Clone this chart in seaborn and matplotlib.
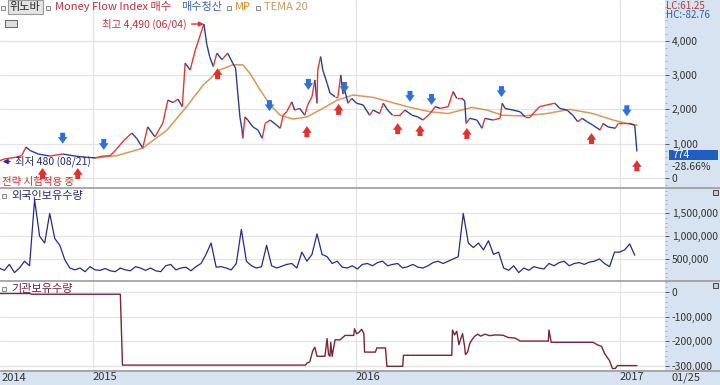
import matplotlib
matplotlib.use("Agg")
import matplotlib.pyplot as plt
import matplotlib.dates as mdates
import matplotlib.transforms as mtransforms
from matplotlib.collections import LineCollection
from matplotlib.patches import Rectangle
from matplotlib.lines import Line2D
from matplotlib.ticker import FuncFormatter, AutoMinorLocator
import numpy as np
import pandas as pd
import seaborn as sns

sns.set_theme(style="white")
plt.rcParams["font.family"] = ["Noto Sans CJK KR", "DejaVu Sans"]
plt.rcParams["axes.unicode_minus"] = False

# ---- price (close) ----
price_dates = [
    "2014-08-21", "2014-09-01", "2014-09-15", "2014-09-24", "2014-09-30", "2014-10-06", "2014-10-17", "2014-11-02", "2014-11-20", "2014-12-07", "2014-12-25",
    "2015-01-05", "2015-01-15", "2015-01-25", "2015-02-03", "2015-02-13", "2015-02-24", "2015-03-03", "2015-03-11", "2015-03-18", "2015-03-28",
    "2015-04-08", "2015-04-15", "2015-04-22", "2015-04-29", "2015-05-05", "2015-05-09", "2015-05-16", "2015-05-23", "2015-06-04", "2015-06-08",
    "2015-06-12", "2015-06-17", "2015-06-22", "2015-06-29", "2015-07-07", "2015-07-14", "2015-07-18", "2015-07-21", "2015-07-24", "2015-07-27",
    "2015-07-28", "2015-07-31", "2015-08-04", "2015-08-11", "2015-08-18", "2015-08-24", "2015-08-28", "2015-09-04", "2015-09-13", "2015-09-18",
    "2015-09-22", "2015-09-27", "2015-10-04", "2015-10-08", "2015-10-15", "2015-10-22", "2015-10-26", "2015-11-01", "2015-11-05", "2015-11-08",
    "2015-11-09", "2015-11-13", "2015-11-16", "2015-11-22", "2015-11-26", "2015-12-03", "2015-12-07", "2015-12-11", "2015-12-14", "2015-12-17",
    "2015-12-21", "2015-12-26", "2016-01-02", "2016-01-11", "2016-01-20", "2016-01-25", "2016-02-03", "2016-02-08", "2016-02-14", "2016-02-21",
    "2016-03-02", "2016-03-09", "2016-03-19", "2016-03-27", "2016-04-03", "2016-04-13", "2016-04-20", "2016-04-27", "2016-05-08", "2016-05-15",
    "2016-05-20", "2016-05-27", "2016-05-31", "2016-06-02", "2016-06-07", "2016-06-17", "2016-06-24", "2016-06-28", "2016-07-09", "2016-07-19",
    "2016-07-22", "2016-07-26", "2016-08-06", "2016-08-16", "2016-08-23", "2016-08-30", "2016-09-05", "2016-09-12", "2016-09-22", "2016-10-03",
    "2016-10-10", "2016-10-20", "2016-10-28", "2016-11-04", "2016-11-10", "2016-11-17", "2016-11-25", "2016-12-05", "2016-12-09", "2016-12-16",
    "2016-12-26", "2016-12-30", "2017-01-06", "2017-01-15", "2017-01-22", "2017-01-25",
]
price_vals = [
    480, 560, 600, 650, 900, 800, 700, 640, 700, 640, 600,
    590, 640, 650, 850, 1100, 1310, 1150, 870, 1490, 1200,
    1600, 2270, 2200, 2300, 2080, 3350, 3150, 3730, 4490, 3900,
    3540, 3250, 3640, 3450, 3640, 3350, 3200, 2480, 1780, 1400,
    1160, 1780, 1690, 1490, 1400, 1160, 1590, 1690, 1540, 1450,
    1830, 1930, 2220, 1980, 2030, 1830, 2130, 2370, 2860, 2180,
    3150, 3540, 3150, 2760, 2480, 2370, 2370, 3000, 2450, 2520,
    2180, 2320, 2180, 2130, 1830, 1980, 1880, 2180, 1980, 1830,
    1830, 1980, 1830, 1780, 1690, 1880, 2080, 2030, 2080, 2520,
    2320, 2320, 2250, 1590, 1740, 1690, 1450, 1740, 1690, 1740,
    2180, 2030, 1980, 1930, 1780, 1780, 1930, 2080, 2130, 2180,
    2030, 1980, 1830, 1640, 1740, 1640, 1540, 1400, 1590, 1490,
    1450, 1590, 1590, 1590, 1540, 774,
]

# ---- slow moving average (orange line) ----
ma_dates = [
    "2015-01-01", "2015-02-03", "2015-03-11", "2015-04-14", "2015-05-11", "2015-06-03", "2015-06-26", "2015-07-14",
    "2015-07-28", "2015-08-07", "2015-08-21", "2015-09-04", "2015-09-18", "2015-10-06", "2015-10-25", "2015-11-16",
    "2015-12-06", "2015-12-28", "2016-01-25", "2016-02-17", "2016-03-16", "2016-04-13", "2016-05-08", "2016-06-10",
    "2016-07-01", "2016-07-22", "2016-08-20", "2016-09-22", "2016-10-24", "2016-11-25", "2016-12-23", "2017-01-11",
    "2017-01-25",
]
ma_vals = [
    580, 650, 870, 1400, 2080, 2710, 3150, 3300,
    3300, 3050, 2570, 2130, 1830, 1720, 1780, 2030,
    2270, 2420, 2350, 2220, 2060, 1930, 1880, 2060,
    1980, 1830, 1810, 1880, 2000, 1880, 1690, 1590,
    1540,
]

# ---- signals ----
buy_dates = ["2014-10-23", "2014-12-11", "2015-06-23", "2015-10-25", "2015-12-08",
             "2016-02-28", "2016-03-30", "2016-06-03", "2016-11-23", "2017-01-25"]
buy_tips = [290, 290, 3200, 1510, 2160, 1600, 1545, 1460, 1310, 520]
sell_dates = ["2014-11-20", "2015-01-16", "2015-09-03", "2015-10-27", "2015-12-16",
              "2016-03-16", "2016-04-15", "2016-07-21", "2017-01-11"]
sell_tips = [1000, 820, 1950, 2570, 2480, 2220, 2130, 2360, 1800]

# ---- foreign holdings (weekly) ----
foreign_start = "2014-08-24"
foreign_k = [
    300, 250, 380, 200, 300, 450, 350, 1800, 1000, 850,
    1500, 950, 800, 480, 300, 260, 300, 220, 330, 260,
    250, 290, 240, 220, 300, 260, 240, 330, 300, 250,
    300, 240, 220, 350, 380, 260, 300, 320, 240, 330,
    400, 600, 850, 320, 330, 300, 260, 400, 1150, 450,
    350, 300, 330, 800, 350, 300, 340, 380, 400, 300,
    650, 450, 600, 1050, 600, 550, 400, 450, 320, 300,
    350, 280, 380, 400, 350, 420, 450, 350, 380, 400,
    300, 330, 380, 320, 300, 350, 420, 450, 400, 450,
    500, 550, 1500, 850, 750, 850, 700, 900, 600, 650,
    300, 250, 350, 200, 300, 250, 330, 300, 280, 400,
    350, 420, 450, 350, 400, 420, 380, 430, 450, 500,
    400, 330, 650, 650, 700, 830, 580,
]

# ---- institutional holdings ----
inst_dates = [
    "2014-08-21", "2014-10-06", "2014-10-08", "2015-02-08", "2015-02-11", "2015-10-23", "2015-10-25", "2015-10-29",
    "2015-11-02", "2015-11-05", "2015-11-08", "2015-11-19", "2015-11-22", "2015-11-24", "2015-11-26", "2015-11-27",
    "2015-11-29", "2015-12-03", "2015-12-10", "2015-12-17", "2015-12-29", "2015-12-30", "2016-01-02", "2016-01-05",
    "2016-01-09", "2016-01-12", "2016-01-13", "2016-01-28", "2016-01-30", "2016-02-11", "2016-02-13", "2016-03-06",
    "2016-03-07", "2016-05-13", "2016-05-14", "2016-05-17", "2016-05-20", "2016-05-23", "2016-05-25", "2016-05-28",
    "2016-05-31", "2016-06-01", "2016-06-04", "2016-06-07", "2016-06-10", "2016-06-14", "2016-06-18", "2016-06-22",
    "2016-06-28", "2016-07-05", "2016-07-12", "2016-07-23", "2016-07-30", "2016-08-09", "2016-08-16", "2016-09-24",
    "2016-09-25", "2016-09-28", "2016-11-25", "2016-12-01", "2016-12-07", "2016-12-11", "2016-12-18", "2016-12-22",
    "2016-12-26", "2016-12-29", "2017-01-25",
]
inst_vals = [
    -6000, -6000, -9000, -9000, -298000, -298000, -290000, -285000,
    -240000, -225000, -262000, -262000, -190000, -255000, -262000, -205000,
    -262000, -195000, -195000, -177000, -177000, -150000, -170000, -165000,
    -152000, -170000, -245000, -245000, -228000, -228000, -303000, -303000,
    -258000, -258000, -155000, -175000, -160000, -215000, -195000, -170000,
    -225000, -255000, -245000, -210000, -195000, -180000, -172000, -180000,
    -172000, -178000, -175000, -176000, -185000, -188000, -200000, -200000,
    -155000, -205000, -205000, -215000, -222000, -250000, -280000, -312000,
    -312000, -300000, -300000,
]

year_ticks = ["2015-01-01", "2016-01-01", "2017-01-01"]
year_labels = ["2015", "2016", "2017"]
price_ticks = [0, 1000, 2000, 3000, 4000]
foreign_ticks = [500000, 1000000, 1500000]
inst_ticks = [0, -100000, -200000, -300000]

RED = "#e03030"
BLUE = "#2f6fd6"
NAVY = "#26266e"
MAROON = "#74283a"
STRIP = "#d7e3f0"

W, H = 720, 385
fig = plt.figure(figsize=(W / 100, H / 100), dpi=100)


def fig_box(x0, y0, x1, y1):
    return [x0 / W, 1 - y1 / H, (x1 - x0) / W, (y1 - y0) / H]


def ftext(x, y, s, **kw):
    return fig.text(x / W, 1 - y / H, s, va="center", **kw)


def small_box(x, y, size=4, fc="#f2f2f2", ec="#8a8a8a"):
    fig.add_artist(Rectangle((x / W, 1 - (y + size) / H), size / W, size / H,
                             transform=fig.transFigure, facecolor=fc, edgecolor=ec,
                             lw=0.7, zorder=12))


ax1 = fig.add_axes(fig_box(0, 0, 665, 187))
ax2 = fig.add_axes(fig_box(0, 188, 665, 280), sharex=ax1)
ax3 = fig.add_axes(fig_box(0, 281, 665, 370), sharex=ax1)

# light blue scale strips
fig.add_artist(Rectangle((665 / W, 0), 55 / W, 1, transform=fig.transFigure,
                         facecolor=STRIP, edgecolor="none", zorder=-1))
fig.add_artist(Rectangle((0, 0), 1, 15 / H, transform=fig.transFigure,
                         facecolor=STRIP, edgecolor="none", zorder=-1))
for yy in [187.5, 280.5, 370.5]:
    fig.add_artist(Line2D([0, 1], [1 - yy / H] * 2, transform=fig.transFigure,
                          color="#9c9c9c", lw=1.2, zorder=11))

# ---- panel 1: price ----
ma_df = pd.DataFrame({"date": pd.to_datetime(ma_dates), "ma": ma_vals})
sns.lineplot(data=ma_df, x="date", y="ma", ax=ax1, color="#d49a5a", lw=1.1, estimator=None)

px = mdates.date2num(pd.to_datetime(price_dates))
pv = np.array(price_vals, dtype=float)
segs = np.stack([np.column_stack([px[:-1], pv[:-1]]), np.column_stack([px[1:], pv[1:]])], axis=1)
seg_cols = np.where(np.diff(pv) >= 0, "#d93a3a", "#2c3f8f")
ax1.add_collection(LineCollection(segs, colors=seg_cols, linewidths=1.0, zorder=3))

arrow_style = "simple,head_length=0.6,head_width=0.85,tail_width=0.45"
for d, tip in zip(buy_dates, buy_tips):
    x = mdates.date2num(pd.Timestamp(d))
    ax1.annotate("", xy=(x, tip), xytext=(x, tip - 320),
                 arrowprops=dict(arrowstyle=arrow_style, color=RED, lw=0,
                                 shrinkA=0, shrinkB=0, mutation_scale=8), zorder=5)
for d, tip in zip(sell_dates, sell_tips):
    x = mdates.date2num(pd.Timestamp(d))
    ax1.annotate("", xy=(x, tip), xytext=(x, tip + 320),
                 arrowprops=dict(arrowstyle=arrow_style, color=BLUE, lw=0,
                                 shrinkA=0, shrinkB=0, mutation_scale=8), zorder=5)

peak_i = int(np.argmax(pv))
ax1.annotate("최고 4,490 (06/04)", xy=(px[peak_i], pv[peak_i]), xytext=(-17, 0),
             textcoords="offset pixels", ha="right", va="center", fontsize=7.5,
             color="#c0303a",
             arrowprops=dict(arrowstyle="-|>", color=RED, lw=1, shrinkA=1, shrinkB=0,
                             mutation_scale=7))
ax1.annotate("최저 480 (08/21)", xy=(0.004, 480), xycoords=("axes fraction", "data"),
             xytext=(12, 0), textcoords="offset pixels", ha="left", va="center",
             fontsize=7.5, color=NAVY,
             arrowprops=dict(arrowstyle="-|>", color="#2030a0", lw=1, shrinkA=1,
                             shrinkB=0, mutation_scale=7))
ax1.text(0.003, 0.025, "전략 시험적용 중", transform=ax1.transAxes, ha="left",
         va="center", fontsize=7.5, color="#d03030")

ax1.set_ylim(-262, 5190)
ax1.set_yticks(price_ticks)

# last price badge on the scale strip
last = price_vals[-1]
blend = mtransforms.blended_transform_factory(ax1.transAxes, ax1.transData)
ax1.add_patch(Rectangle((669 / 665, last - 240), 49 / 665, 290, transform=blend,
                        facecolor="#1f5fc4", edgecolor="none", clip_on=False, zorder=6))
ax1.text(672 / 665, last - 95, f"{last}", transform=blend, color="white", fontsize=7.5,
         ha="left", va="center", zorder=7, clip_on=False)
ax1.text(672 / 665, last - 440, "-28.66%", transform=blend, color="#333333",
         fontsize=7.5, ha="left", va="center", zorder=7, clip_on=False)

# ---- panel 2: foreign holdings ----
foreign_df = pd.DataFrame({
    "date": pd.date_range(foreign_start, periods=len(foreign_k), freq="7D"),
    "qty": np.array(foreign_k) * 1000,
})
sns.lineplot(data=foreign_df, x="date", y="qty", ax=ax2, color="#2a2a86", lw=0.9, estimator=None)
ax2.set_ylim(37000, 2060000)
ax2.set_yticks(foreign_ticks)

# ---- panel 3: institutional holdings ----
inst_df = pd.DataFrame({"date": pd.to_datetime(inst_dates), "qty": inst_vals})
sns.lineplot(data=inst_df, x="date", y="qty", ax=ax3, color=MAROON, lw=1.0, estimator=None)
ax3.set_ylim(-318000, 45000)
ax3.set_yticks(inst_ticks)

# ---- shared styling ----
ax1.set_xlim(pd.Timestamp("2014-08-25"), pd.Timestamp("2017-03-05"))
ax1.set_xticks(pd.to_datetime(year_ticks))
fmt = FuncFormatter(lambda v, p: f"{v:,.0f}")
for ax in (ax1, ax2, ax3):
    ax.set_facecolor("white")
    ax.set_xlabel("")
    ax.set_ylabel("")
    for s in ax.spines.values():
        s.set_visible(False)
    ax.grid(True, color="#e3e3e3", lw=0.9)
    ax.set_axisbelow(True)
    ax.yaxis.tick_right()
    ax.yaxis.set_major_formatter(fmt)
    ax.yaxis.set_minor_locator(AutoMinorLocator(5))
    ax.tick_params(axis="y", which="major", direction="out", length=3, width=0.7,
                   pad=2, labelsize=7.5, colors="#555555", labelcolor="#333333")
    ax.tick_params(axis="y", which="minor", direction="out", length=1.5, width=0.5,
                   colors="#8899aa")
    ax.tick_params(axis="x", length=0, labelbottom=False)

ax3.tick_params(axis="x", labelbottom=True, pad=1.5, labelsize=8, labelcolor="#333333")
ax3.set_xticklabels(year_labels)
for lbl in ax3.get_xticklabels():
    lbl.set_ha("left")

# ---- header and labels ----
small_box(1, 6)
ftext(10, 7, "위노바", fontsize=8, color="#222222",
      bbox=dict(boxstyle="square,pad=0.2", fc="#e4e4e4", ec="#9a9a9a", lw=0.8))
small_box(46, 6)
ftext(55, 7, "Money Flow Index 매수", fontsize=8, color="#b0343a")
ftext(181, 7, "매수청산", fontsize=8, color="#3a66b8")
small_box(227, 6)
ftext(235, 7, "MP", fontsize=8, color="#d08a30")
small_box(256, 6)
ftext(264, 7, "TEMA 20", fontsize=8, color="#c49a5c")
fig.add_artist(Rectangle((5 / W, 1 - 27 / H), 12 / W, 7 / H, transform=fig.transFigure,
                         facecolor="#dcdcdc", edgecolor="#666666", lw=0.7, zorder=12))

ftext(666, 6, "LC:61.25", fontsize=7, color="#c03434")
ftext(666, 15, "HC:-82.76", fontsize=7, color="#2f5f9f")

small_box(2, 194)
ftext(11, 196, "외국인보유수량", fontsize=8, color=NAVY)
small_box(2, 287)
ftext(11, 289, "기관보유수량", fontsize=8, color="#6a2442")

for yy in [190, 283]:
    small_box(713, yy, size=5, fc="#cccccc", ec="#444444")

ftext(2, 378, "2014", fontsize=8, color="#333333")
ftext(672, 378, "01/25", fontsize=8, color="#333333")

fig.savefig("out.png", dpi=100)
